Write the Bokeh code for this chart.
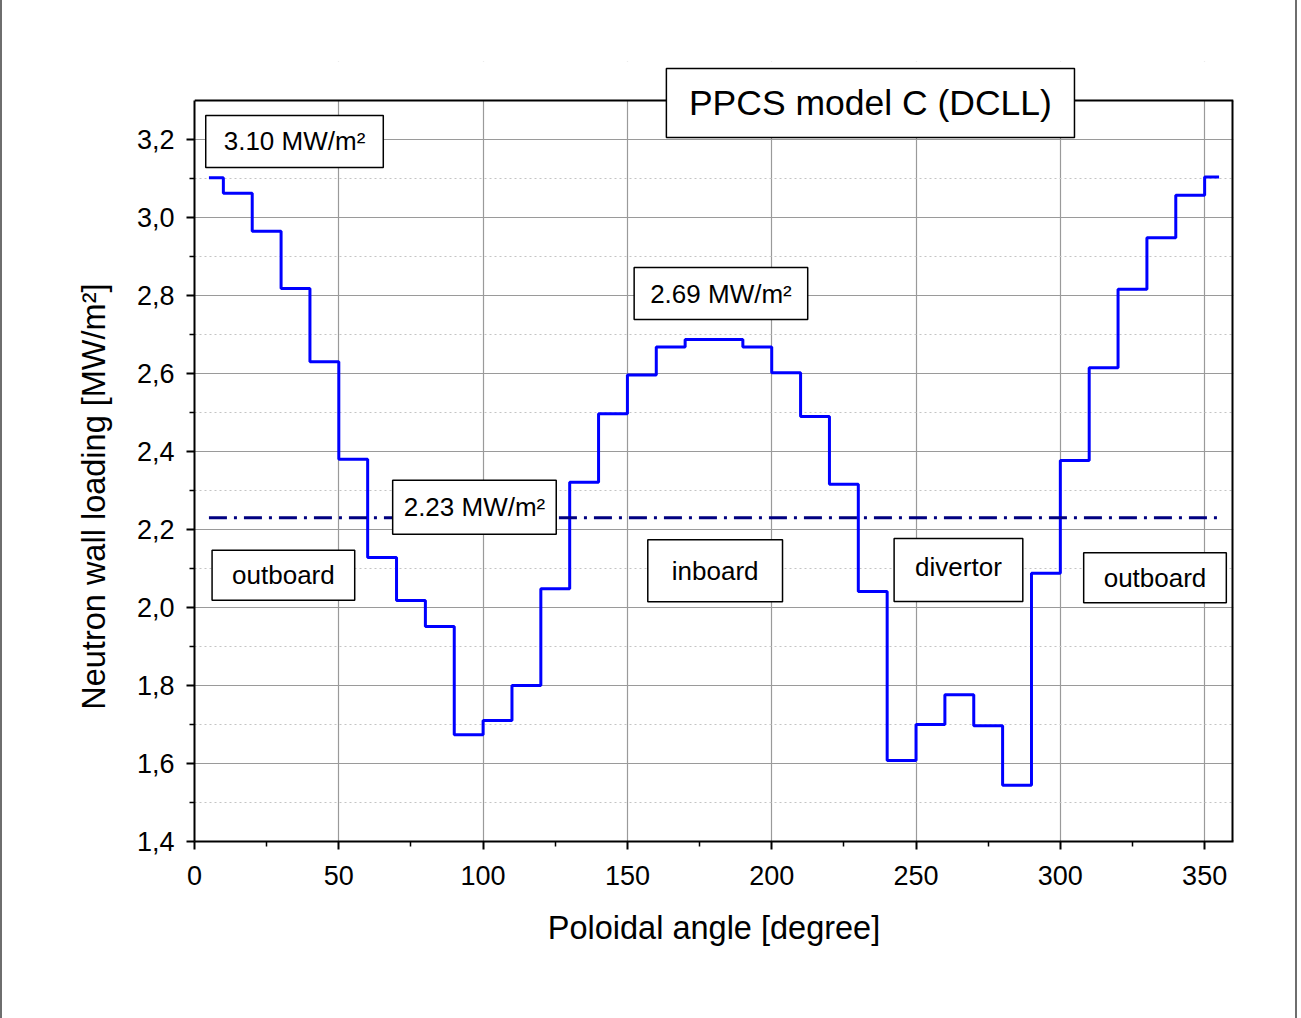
from bokeh.plotting import figure
from bokeh.models import Label, FixedTicker, CustomJSTickFormatter, Range1d
from bokeh.core.properties import value
from bokeh.embed import file_html
from bokeh.resources import INLINE

# ---------------- data ----------------
angle_edges = [5, 10, 20, 30, 40, 50, 60, 70, 80, 90, 100, 110, 120, 130, 140, 150,
               160, 170, 180, 190, 200, 210, 220, 230, 240, 250, 260, 270, 280, 290,
               300, 310, 320, 330, 340, 350, 355]
wall_load = [3.102, 3.062, 2.965, 2.818, 2.630, 2.380, 2.128, 2.018, 1.951, 1.674,
             1.710, 1.800, 2.048, 2.321, 2.497, 2.596, 2.668, 2.687, 2.687, 2.668,
             2.602, 2.490, 2.316, 2.041, 1.608, 1.700, 1.776, 1.697, 1.544, 2.088,
             2.377, 2.615, 2.816, 2.948, 3.057, 3.104]
mean_load = 2.23

x_ticks = [0, 50, 100, 150, 200, 250, 300, 350]
x_minor = [25, 75, 125, 175, 225, 275, 325]
y_ticks = [1.4, 1.6, 1.8, 2.0, 2.2, 2.4, 2.6, 2.8, 3.0, 3.2]
y_minor = [1.5, 1.7, 1.9, 2.1, 2.3, 2.5, 2.7, 2.9, 3.1]

title_text = "PPCS model C (DCLL)"
x_title = "Poloidal angle [degree]"
y_title = "Neutron wall loading [MW/m\u00b2]"

# ---------------- layout / styling ----------------
X_MIN, X_MAX = 0, 360
Y_MIN, Y_AXIS_TOP, Y_CANVAS_TOP = 1.4, 3.3, 3.4
FONT = "Liberation Sans"

# annotation boxes: text, x, y (data units), font size, padding (l, r, t, b)
notes = [
    ("3.10 MW/m\u00b2", 34.65, 3.195, 26, (18, 18, 11, 11)),
    ("2.69 MW/m\u00b2", 182.4, 2.805, 26, (16, 16, 11, 11)),
    ("2.23 MW/m\u00b2", 97.0, 2.257, 26, (11, 11, 12, 12)),
    ("outboard", 30.8, 2.083, 26, (20, 20, 10, 10)),
    ("inboard", 180.4, 2.094, 26, (24, 24, 16, 16)),
    ("divertor", 264.7, 2.096, 26, (21, 21, 13, 20)),
    ("outboard", 332.8, 2.076, 26, (20, 20, 10, 10)),
]
# title box extent (data units): left, right, bottom, top
title_box = (163.5, 304.9, 3.205, 3.382)

p = figure(width=1297, height=1018, output_backend="svg", toolbar_location=None,
           x_range=Range1d(X_MIN, X_MAX), y_range=Range1d(Y_MIN, Y_CANVAS_TOP),
           min_border_left=192, min_border_right=66, min_border_top=61,
           min_border_bottom=177)
p.background_fill_color = "white"
p.border_fill_color = "white"
p.outline_line_color = None
p.styles = {"border-left": "2px solid #6e6e6e", "border-right": "2px solid #6e6e6e"}

# grid
p.xgrid.grid_line_color = "#9a9a9a"
p.ygrid.grid_line_color = "#9a9a9a"
p.xgrid.grid_line_width = 1.2
p.ygrid.grid_line_width = 1.2
p.xgrid.minor_grid_line_color = None
p.ygrid.minor_grid_line_color = "#c4c4c4"
p.ygrid.minor_grid_line_dash = "2 3"

# white cover above the plotting box (hides grid above the top frame line)
p.quad(left=[X_MIN], right=[X_MAX], bottom=[Y_AXIS_TOP], top=[Y_CANVAS_TOP],
       fill_color="white", line_color=None)

# data lines
ys = wall_load + [wall_load[-1]]
p.step(angle_edges, ys, mode="after", line_color="#0000ff", line_width=3)
p.line([angle_edges[0], angle_edges[-1]], [mean_load, mean_load],
       line_color="#000080", line_width=3, line_dash="18 7 3 7")

# frame lines (top and right)
p.line([X_MIN, X_MAX], [Y_AXIS_TOP, Y_AXIS_TOP], line_color="black", line_width=2)
p.line([X_MAX, X_MAX], [Y_MIN, Y_AXIS_TOP], line_color="black", line_width=4)

# title box crossing the top frame line
tl, tr, tb, tt = title_box
p.quad(left=[tl], right=[tr], bottom=[tb], top=[tt], fill_color="white",
       line_color="black", line_width=1.5)
p.text(x=[(tl + tr) / 2], y=[(tb + tt) / 2], text=[title_text],
       text_font=value(FONT), text_font_size=value("35.5px"), text_color="black",
       text_align="center", text_baseline="middle")

# axes
p.xaxis.ticker = FixedTicker(ticks=x_ticks, minor_ticks=x_minor)
p.yaxis.ticker = FixedTicker(ticks=y_ticks, minor_ticks=y_minor)
p.yaxis.formatter = CustomJSTickFormatter(code="return tick.toFixed(1).replace('.', ',');")
p.yaxis.bounds = (Y_MIN, Y_AXIS_TOP)
p.xaxis.axis_label = x_title
# trailing no-break spaces shift the centred title down, as in the reference
p.yaxis.axis_label = y_title + "\u00a0" * 10
for ax in (p.xaxis[0], p.yaxis[0]):
    ax.axis_line_width = 2
    ax.axis_line_color = "black"
    ax.major_tick_line_width = 2
    ax.major_tick_line_color = "black"
    ax.minor_tick_line_width = 1.5
    ax.minor_tick_line_color = "black"
    ax.major_tick_out = 8
    ax.major_tick_in = 0
    ax.minor_tick_out = 5
    ax.minor_tick_in = 0
    ax.major_label_text_font = FONT
    ax.major_label_text_font_size = "27px"
    ax.major_label_text_color = "black"
    ax.axis_label_text_font = FONT
    ax.axis_label_text_font_size = "32.5px"
    ax.axis_label_text_font_style = "normal"
    ax.axis_label_text_color = "black"
p.yaxis.major_label_standoff = 12
p.yaxis.axis_label_standoff = 22
p.xaxis.major_label_standoff = 16
p.xaxis.axis_label_standoff = 22

for txt, x, y, size, (pl, pr, pt, pb) in notes:
    lab = Label(x=x, y=y, text=txt, text_font=FONT, text_font_size=f"{size}px",
                text_color="black", text_align="center", text_baseline="middle",
                background_fill_color="white", background_fill_alpha=1.0,
                border_line_color="black", border_line_width=1.5,
                padding=dict(left=pl, right=pr, top=pt, bottom=pb))
    p.add_layout(lab)

open("out.html", "w").write(file_html(p, INLINE))
